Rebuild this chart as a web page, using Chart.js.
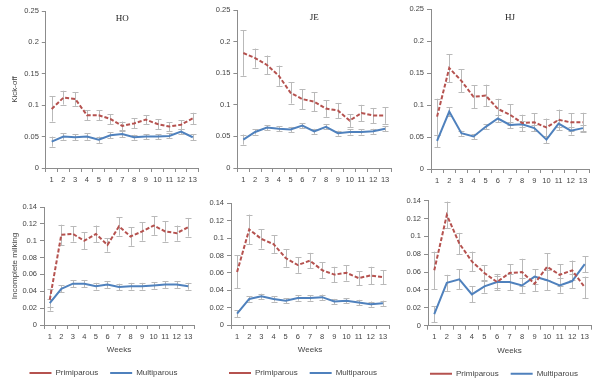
<!DOCTYPE html>
<html>
<head>
<meta charset="utf-8">
<script src="https://cdn.jsdelivr.net/npm/chart.js@4"></script>
<style>
  html, body { margin: 0; padding: 0; background: #ffffff; }
  body { width: 600px; height: 388px; position: relative; overflow: hidden; }
  canvas { position: absolute; }
</style>
</head>
<body>
<script>
// ---------- data ----------
const weeks = ['1','2','3','4','5','6','7','8','9','10','11','12','13'];
const seriesNames = ['Primiparous', 'Multiparous'];
const panelTitles = ['HO', 'JE', 'HJ'];
const rowTitles = ['Kick-off', 'Incomplete milking'];
const xTitle = 'Weeks';
const yTicksKick = [0, 0.05, 0.1, 0.15, 0.2, 0.25];
const yTicksKickLabels = ['0', '0.05', '0.1', '0.15', '0.2', '0.25'];
const yTicksInc = [0, 0.02, 0.04, 0.06, 0.08, 0.1, 0.12, 0.14];
const yTicksIncLabels = ['0', '0.02', '0.04', '0.06', '0.08', '0.1', '0.12', '0.14'];

// Kick-off
const hoKickPrim    = [0.094,0.112,0.110,0.084,0.084,0.078,0.067,0.071,0.077,0.070,0.066,0.069,0.079];
const hoKickPrimErr = [0.020,0.011,0.011,0.008,0.008,0.008,0.007,0.008,0.007,0.008,0.007,0.007,0.009];
const hoKickMult    = [0.042,0.050,0.049,0.050,0.045,0.052,0.054,0.049,0.050,0.050,0.051,0.058,0.049];
const hoKickMultErr = [0.008,0.005,0.005,0.005,0.005,0.005,0.005,0.004,0.004,0.004,0.004,0.004,0.005];

const jeKickPrim    = [0.182,0.174,0.163,0.146,0.119,0.109,0.105,0.094,0.091,0.075,0.087,0.083,0.083];
const jeKickPrimErr = [0.036,0.015,0.015,0.016,0.017,0.016,0.015,0.013,0.012,0.010,0.013,0.012,0.013];
const jeKickMult    = [0.045,0.057,0.064,0.062,0.061,0.067,0.058,0.065,0.055,0.057,0.057,0.058,0.062];
const jeKickMultErr = [0.008,0.004,0.004,0.004,0.004,0.004,0.004,0.004,0.004,0.004,0.004,0.004,0.004];

const hjKickPrim    = [0.082,0.158,0.138,0.113,0.115,0.094,0.085,0.072,0.073,0.065,0.077,0.073,0.073];
const hjKickPrimErr = [0.028,0.022,0.018,0.018,0.017,0.016,0.016,0.013,0.014,0.014,0.016,0.014,0.015];
const hjKickMult    = [0.044,0.090,0.056,0.051,0.066,0.079,0.069,0.070,0.064,0.046,0.071,0.060,0.064];
const hjKickMultErr = [0.010,0.007,0.004,0.004,0.004,0.006,0.005,0.005,0.005,0.006,0.006,0.006,0.005];

// Incomplete milking
const hoIncPrim    = [0.030,0.107,0.108,0.100,0.108,0.095,0.117,0.105,0.111,0.118,0.111,0.109,0.116];
const hoIncPrimErr = [0.013,0.012,0.009,0.010,0.010,0.008,0.011,0.011,0.011,0.011,0.012,0.009,0.011];
const hoIncMult    = [0.026,0.043,0.049,0.049,0.046,0.048,0.045,0.046,0.046,0.047,0.048,0.048,0.046];
const hoIncMultErr = [0.005,0.004,0.004,0.004,0.004,0.004,0.004,0.004,0.004,0.004,0.004,0.004,0.004];

const jeIncPrim    = [0.061,0.110,0.099,0.093,0.077,0.069,0.074,0.063,0.058,0.060,0.054,0.057,0.055];
const jeIncPrimErr = [0.019,0.017,0.011,0.010,0.010,0.009,0.009,0.009,0.009,0.009,0.008,0.010,0.008];
const jeIncMult    = [0.013,0.030,0.033,0.030,0.028,0.031,0.031,0.032,0.027,0.028,0.026,0.024,0.025];
const jeIncMultErr = [0.004,0.003,0.003,0.003,0.003,0.003,0.003,0.003,0.003,0.003,0.003,0.003,0.003];

const hjIncPrim    = [0.062,0.124,0.092,0.072,0.059,0.049,0.059,0.060,0.047,0.066,0.057,0.062,0.043];
const hjIncPrimErr = [0.021,0.015,0.012,0.011,0.009,0.009,0.010,0.015,0.008,0.015,0.012,0.011,0.012];
const hjIncMult    = [0.013,0.048,0.052,0.035,0.044,0.049,0.049,0.045,0.055,0.051,0.045,0.050,0.069];
const hjIncMultErr = [0.009,0.009,0.011,0.009,0.007,0.007,0.009,0.008,0.008,0.011,0.008,0.008,0.009];

// ---------- styling ----------
const PRIM_COLOR = '#b5524f';
const MULT_COLOR = '#4f81bd';
const AXIS_COLOR = '#8c8c8c';
const TEXT_COLOR = '#444444';
const ERR_COLOR = '#b9b9b9';
const FONT = '"Liberation Sans", Arial, sans-serif';

// error bar plugin (uses the chart's y scale)
const errorBars = {
  id: 'errorBars',
  beforeDatasetsDraw(chart) {
    const ctx = chart.ctx;
    const yScale = chart.scales.y;
    ctx.save();
    ctx.strokeStyle = ERR_COLOR;
    ctx.lineWidth = 1;
    chart.data.datasets.forEach((ds, i) => {
      const meta = chart.getDatasetMeta(i);
      if (!ds.errors) return;
      meta.data.forEach((el, j) => {
        const v = ds.data[j], e = ds.errors[j];
        const x = Math.round(el.x) + 0.5;
        const yt = yScale.getPixelForValue(v + e);
        const yb = yScale.getPixelForValue(v - e);
        ctx.beginPath();
        ctx.moveTo(x, yt); ctx.lineTo(x, yb);
        ctx.moveTo(x - 3, Math.round(yt) + 0.5); ctx.lineTo(x + 3, Math.round(yt) + 0.5);
        ctx.moveTo(x - 3, Math.round(yb) + 0.5); ctx.lineTo(x + 3, Math.round(yb) + 0.5);
        ctx.stroke();
      });
    });
    ctx.restore();
  }
};

// panel title plugin
const panelTitle = {
  id: 'panelTitle',
  afterDraw(chart, args, opts) {
    if (!opts.text) return;
    const {ctx, chartArea} = chart;
    ctx.save();
    ctx.font = '9px "Liberation Serif", "Times New Roman", serif';
    ctx.fillStyle = '#222222';
    ctx.textAlign = 'center';
    ctx.textBaseline = 'middle';
    ctx.fillText(opts.text, (chartArea.left + chartArea.right) / 2, chartArea.top + 8);
    ctx.restore();
  }
};

// layout of each panel (rW = width of an empty right-side spacer axis used to centre the legend)
const panels = [
  // top row (kick-off)
  {cx: 0,   cy: 0,   cw: 200, ch: 190, yW: 40, rW: 0,  pad: {left: 5.8, right: 1.1, top: 11,  bottom: 2}, xH: 20, bottomRow: false, yTitle: rowTitles[0], yTitlePad: 4.4, title: panelTitles[0], prim: hoKickPrim, primErr: hoKickPrimErr, mult: hoKickMult, multErr: hoKickMultErr, ticks: yTicksKick, labels: yTicksKickLabels},
  {cx: 200, cy: 0,   cw: 200, ch: 190, yW: 30, rW: 0,  pad: {left: 7.4, right: 9,   top: 10,  bottom: 2}, xH: 20, bottomRow: false, yTitle: null, title: panelTitles[1], prim: jeKickPrim, primErr: jeKickPrimErr, mult: jeKickMult, multErr: jeKickMultErr, ticks: yTicksKick, labels: yTicksKickLabels},
  {cx: 400, cy: 0,   cw: 200, ch: 190, yW: 30, rW: 0,  pad: {left: 1,   right: 11,  top: 9.3, bottom: 1}, xH: 20, bottomRow: false, yTitle: null, title: panelTitles[2], prim: hjKickPrim, primErr: hjKickPrimErr, mult: hjKickMult, multErr: hjKickMultErr, ticks: yTicksKick, labels: yTicksKickLabels},
  // bottom row (incomplete milking)
  {cx: 0,   cy: 190, cw: 200, ch: 198, yW: 31, rW: 0,  pad: {left: 13,  right: 6,   top: 17,  bottom: 1}, xH: 32, bottomRow: true, yTitle: rowTitles[1], yTitlePad: -3, title: null, prim: hoIncPrim, primErr: hoIncPrimErr, mult: hoIncMult, multErr: hoIncMultErr, ticks: yTicksInc, labels: yTicksIncLabels},
  {cx: 200, cy: 190, cw: 200, ch: 198, yW: 24, rW: 10, pad: {left: 7,   right: 1,   top: 13.3,bottom: 1}, xH: 32, bottomRow: true, yTitle: null, title: null, prim: jeIncPrim, primErr: jeIncPrimErr, mult: jeIncMult, multErr: jeIncMultErr, ticks: yTicksInc, labels: yTicksIncLabels},
  {cx: 400, cy: 190, cw: 204, ch: 198, yW: 24, rW: 13, pad: {left: 4,   right: 0,   top: 10.7,bottom: 0.3}, xH: 32, bottomRow: true, yTitle: null, title: null, prim: hjIncPrim, primErr: hjIncPrimErr, mult: hjIncMult, multErr: hjIncMultErr, ticks: yTicksInc, labels: yTicksIncLabels}
];

panels.forEach((p) => {
  const canvas = document.createElement('canvas');
  canvas.width = p.cw; canvas.height = p.ch;
  canvas.style.left = p.cx + 'px'; canvas.style.top = p.cy + 'px';
  canvas.style.width = p.cw + 'px'; canvas.style.height = p.ch + 'px';
  document.body.appendChild(canvas);

  const scales = {
    x: {
      type: 'category',
      offset: true,
      grid: {display: true, drawOnChartArea: false, drawTicks: true, tickLength: 4, offset: true, color: AXIS_COLOR},
      border: {display: true, color: AXIS_COLOR, width: 1},
      ticks: {color: TEXT_COLOR, font: {family: FONT, size: 7.5}, padding: 3, maxRotation: 0, autoSkip: false},
      title: {display: p.bottomRow, text: xTitle, color: TEXT_COLOR, font: {family: FONT, size: 8}, padding: {top: 2, bottom: 2}},
      afterFit: (s) => { s.height = p.xH; }
    },
    y: {
      min: 0,
      max: p.ticks[p.ticks.length - 1],
      afterBuildTicks: (s) => { s.ticks = p.ticks.map(v => ({value: v})); },
      grid: {display: true, drawOnChartArea: false, drawTicks: true, tickLength: 4, color: AXIS_COLOR},
      border: {display: true, color: AXIS_COLOR, width: 1},
      ticks: {color: TEXT_COLOR, font: {family: FONT, size: 7.5}, padding: 3,
              callback: (v, i) => p.labels[i]},
      title: {display: !!p.yTitle, text: p.yTitle || '', color: TEXT_COLOR, font: {family: FONT, size: 8},
              padding: {top: p.yTitlePad || 0, bottom: 0}},
      afterFit: (s) => { s.width = p.yW; }
    }
  };
  if (p.rW > 0) {
    scales.spacer = {
      type: 'linear', position: 'right', display: true, min: 0, max: 1,
      grid: {display: false, drawTicks: false}, border: {display: false},
      ticks: {display: false}, title: {display: false},
      afterFit: (s) => { s.width = p.rW; }
    };
  }

  new Chart(canvas, {
    type: 'line',
    data: {
      labels: weeks,
      datasets: [
        {label: seriesNames[0], data: p.prim, errors: p.primErr, borderColor: PRIM_COLOR, backgroundColor: PRIM_COLOR,
         borderWidth: 2, borderDash: [4, 2], pointRadius: 0, tension: 0, fill: false},
        {label: seriesNames[1], data: p.mult, errors: p.multErr, borderColor: MULT_COLOR, backgroundColor: MULT_COLOR,
         borderWidth: 2, pointRadius: 0, tension: 0, fill: false}
      ]
    },
    plugins: [errorBars, panelTitle],
    options: {
      responsive: false,
      animation: false,
      devicePixelRatio: 1,
      layout: {padding: p.pad},
      plugins: {
        tooltip: {enabled: false},
        panelTitle: {text: p.title},
        legend: {
          display: p.bottomRow,
          position: 'bottom',
          labels: {
            usePointStyle: true,
            pointStyle: 'line',
            pointStyleWidth: 22,
            padding: 12,
            color: TEXT_COLOR,
            font: {family: FONT, size: 8}
          }
        }
      },
      scales: scales
    }
  });
});
</script>
</body>
</html>
